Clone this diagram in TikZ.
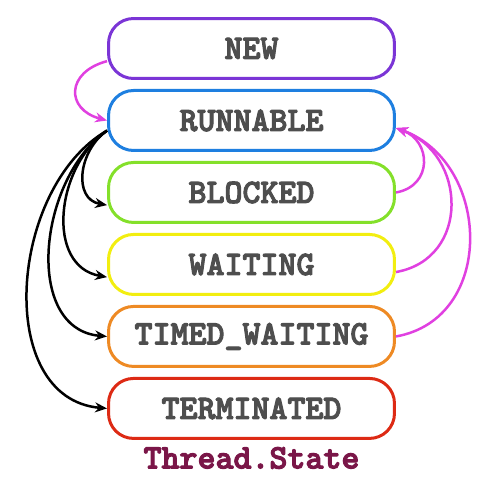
\documentclass[tikz,border=0pt]{standalone}
\usepackage{fontspec}
\newfontfamily\statefont{lmmonolt10-bold}[Extension=.otf,FakeBold=3]
\usetikzlibrary{positioning,arrows.meta}
\definecolor{newcol}{HTML}{7B35D6}
\definecolor{runcol}{HTML}{1E7FE0}
\definecolor{blockcol}{HTML}{84E02A}
\definecolor{waitcol}{HTML}{F2EE10}
\definecolor{timedcol}{HTML}{EE8A24}
\definecolor{termcol}{HTML}{DD2A14}
\definecolor{backcol}{HTML}{E040E0}
\definecolor{namecol}{HTML}{7A1648}
\definecolor{textcol}{HTML}{4E4E4E}
\tikzset{state node/.style={draw,line width=0.06cm,rounded corners=0.5cm,fill=white,minimum width=5.72cm,minimum height=1.2cm,text=textcol,font=\statefont\fontsize{19.5}{22}\selectfont},
go edge/.style={-{Stealth[length=0.24cm,width=0.2cm]},line width=0.05cm},}

\begin{document}
\begin{tikzpicture}[x=0.02cm,y=0.02cm]
    \useasboundingbox (0,0) rectangle (482,478);
    \node[state node,draw=newcol] (new) at (251.5,429.5) {NEW};
    \node[state node,draw=runcol] (runnable) [below = 0.18cm of new] {RUNNABLE};
    \node[state node,draw=blockcol] (blocked) [below = 0.18cm of runnable] {BLOCKED};
    \node[state node,draw=waitcol] (waiting) [below = 0.18cm of blocked] {WAITING};
    \node[state node,draw=timedcol] (timed) [below = 0.18cm of waiting] {TIMED\_WAITING};
    \node[state node,draw=termcol] (terminated) [below = 0.18cm of timed] {TERMINATED};
    \node[text=namecol,font=\statefont\fontsize{19.5}{22}\selectfont] (name) [below = 0.02cm of terminated] {Thread.State};

    % back to runnable
    \draw[go edge,backcol] (new.185) to[out=195,in=165,looseness=1.85] (runnable.west);
    \draw[go edge,backcol] (blocked.east) to[out=10,in=-20,looseness=1.5] (runnable.357);
    \draw[go edge,backcol] (waiting.357) to[out=10,in=-20,looseness=1.35] (runnable.357);
    \draw[go edge,backcol] (timed.east) to[out=10,in=-20,looseness=1.25] (runnable.357);

    % out of runnable
    \draw[go edge] (runnable.184) to[out=215,in=170,looseness=1.2] (blocked.185);
    \draw[go edge] (runnable.184) to[out=215,in=170,looseness=1.1] (waiting.185);
    \draw[go edge] (runnable.184) to[out=215,in=175,looseness=1.05] (timed.west);
    \draw[go edge] (runnable.184) to[out=210,in=175,looseness=1.05] (terminated.west);
\end{tikzpicture}
\end{document}
